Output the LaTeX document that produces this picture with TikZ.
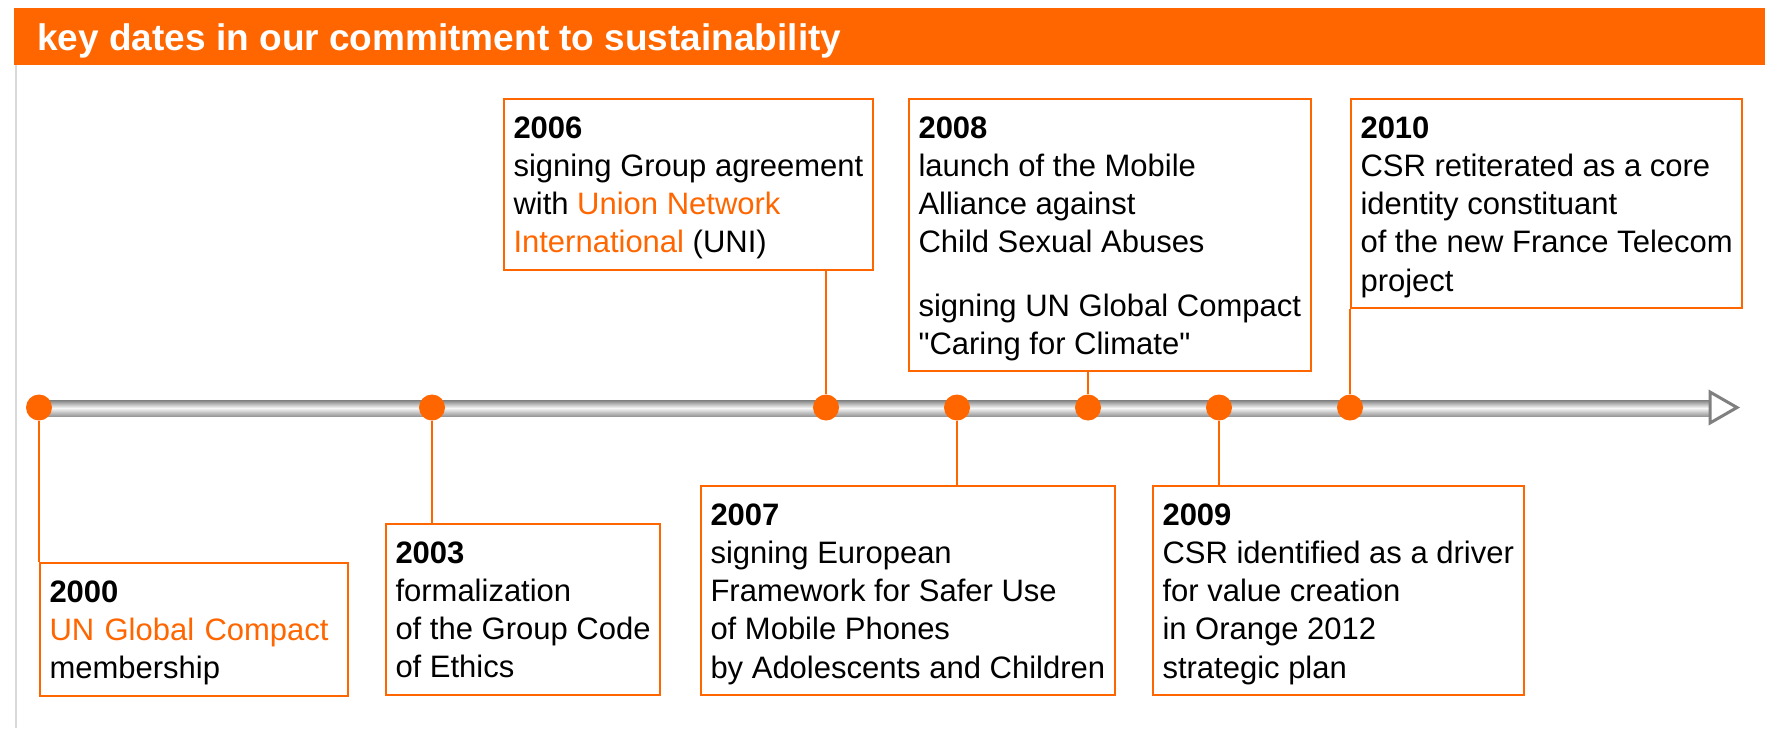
\documentclass[tikz,border=0pt]{standalone}
\usepackage{fontspec}
\setmainfont{Liberation Sans}[Ligatures=TeXOff]
\usetikzlibrary{positioning}

\definecolor{tlorange}{HTML}{FF6600}
\newcommand\datehead[1]{\rule{0pt}{19.5pt}\textbf{#1}}
\newcommand\boxend{\rule[-8.5pt]{0pt}{8.5pt}}
\newcommand\hl[1]{\textcolor{tlorange}{#1}}

\begin{document}
\begin{tikzpicture}[
  x=0.5pt, y=-0.5pt,
  font=\fontsize{15.5pt}{19.15pt}\selectfont,
  dot/.style={circle, fill=tlorange, minimum size=13pt, inner sep=0pt},
  card/.style={draw=tlorange, line width=1pt, anchor=north west, align=left, inner xsep=4.75pt, inner ysep=0pt},
  stem/.style={draw=tlorange, line width=1pt}
]
\useasboundingbox (0,0) rectangle (1765,728);

% title bar
\fill[tlorange] (14,8) rectangle (1765,65);
\draw[black!15, line width=0.75pt] (16,65) -- (16,728);
\node[anchor=base west, inner sep=0pt, text=white, font=\bfseries\fontsize{18.5pt}{22pt}\selectfont] (title) at (37,50) {key dates in our commitment to sustainability};

% time line
\shade[top color=black!50, bottom color=black!40, middle color=black!3] (39,400) rectangle (1710,416);
\draw[black!50, line width=1.5pt, fill=white, line join=miter] (1710,392) -- (1737,407.5) -- (1710,423) -- cycle;

\node[dot] (d2000) at (39,407.5) {};
\node[dot] (d2003) at (432,407.5) {};
\node[dot] (d2006) at (826,407.5) {};
\node[dot] (d2007) at (957,407.5) {};
\node[dot] (d2008) at (1088,407.5) {};
\node[dot] (d2009) at (1219,407.5) {};
\node[dot] (d2010) at (1350,407.5) {};

% events
\node[card, text width=144.5pt] (b2000) at (39,562) {\datehead{2000}\\ \hl{UN Global Compact}\\ membership\boxend};
\node[card] (b2003) at (385,523) {\datehead{2003}\\ formalization\\ of the Group Code\\ of Ethics\boxend};
\node[card] (b2006) at (503,98) {\datehead{2006}\\ signing Group agreement\\ with \hl{Union Network}\\ \hl{International} (UNI)\boxend};
\node[card] (b2007) at (700,485) {\datehead{2007}\\ signing European\\ Framework for Safer Use\\ of Mobile Phones\\ by Adolescents and Children\boxend};
\node[card] (b2008) at (908,98) {\datehead{2008}\\ launch of the Mobile\\ Alliance against\\ Child Sexual Abuses\\[12.4pt] signing UN Global Compact\\ "Caring for Climate"\boxend};
\node[card] (b2009) at (1152,485) {\datehead{2009}\\ CSR identified as a driver\\ for value creation\\ in Orange 2012\\ strategic plan\boxend};
\node[card] (b2010) at (1350,98) {\datehead{2010}\\ CSR retiterated as a core\\ identity constituant\\ of the new France Telecom\\ project\boxend};

\draw[stem] (d2000) -- (b2000.north west);
\draw[stem] (d2003) -- (d2003 |- b2003.north);
\draw[stem] (d2006) -- (d2006 |- b2006.south);
\draw[stem] (d2007) -- (d2007 |- b2007.north);
\draw[stem] (d2008) -- (d2008 |- b2008.south);
\draw[stem] (d2009) -- (d2009 |- b2009.north);
\draw[stem] (d2010) -- (b2010.south west);
\end{tikzpicture}
\end{document}
